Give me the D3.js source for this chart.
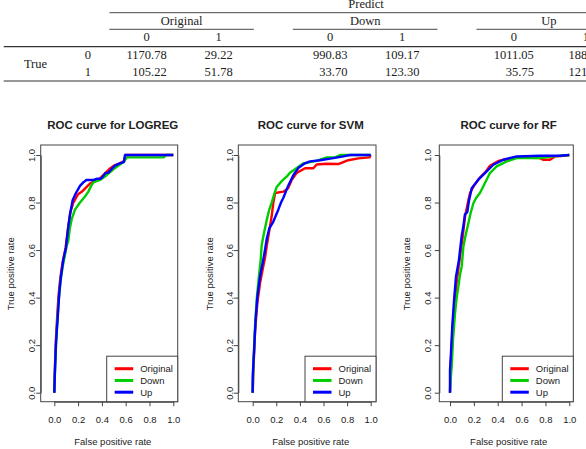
<!DOCTYPE html>
<html>
<head>
<meta charset="utf-8">
<script src="https://cdn.jsdelivr.net/npm/d3@7"></script>
<style>
  body { margin: 0; background: #fff; }
  svg { display: block; }
  .tbl text { font-family: "Liberation Serif", "Times New Roman", serif; font-size: 12.5px; fill: #222; }
  .roc text { font-family: "Liberation Sans", Arial, sans-serif; fill: #222; }
</style>
</head>
<body>
<svg id="chart" width="586" height="449"></svg>
<script>
// confusion matrix table
var groups = ['Original', 'Down', 'Up']
var classes = ['0', '1']
var cmOriginal = [[1170.78, 29.22], [105.22, 51.78]]
var cmDown = [[990.83, 109.17], [33.70, 123.30]]
var cmUp = [[1011.05, 188.95], [35.75, 121.25]]

// roc curves, [false positive rate, true positive rate]
var models = ['LOGREG', 'SVM', 'RF']
var samplings = ['Original', 'Down', 'Up']
var colors = ['#ff0000', '#00cd00', '#0000ff']
var ticks = [0, 0.2, 0.4, 0.6, 0.8, 1.0]

var logregOriginal = [[0,0],[0.006,0.12],[0.016,0.25],[0.034,0.40],[0.05,0.48],[0.07,0.55],[0.095,0.61],[0.115,0.69],[0.135,0.76],[0.16,0.80],[0.2,0.835],[0.23,0.845],[0.26,0.86],[0.3,0.88],[0.34,0.89],[0.38,0.90],[0.42,0.92],[0.46,0.94],[0.5,0.955],[0.55,0.965],[0.585,0.975],[0.60,1.0],[1,1]]
var logregDown = [[0,0],[0.006,0.10],[0.018,0.24],[0.034,0.37],[0.05,0.46],[0.07,0.53],[0.09,0.58],[0.105,0.62],[0.118,0.64],[0.13,0.69],[0.146,0.73],[0.174,0.77],[0.216,0.80],[0.258,0.825],[0.286,0.846],[0.31,0.87],[0.328,0.885],[0.384,0.895],[0.44,0.915],[0.496,0.94],[0.552,0.96],[0.59,0.975],[0.61,0.99],[0.92,0.99],[0.94,1.0],[1,1]]
var logregUp = [[0,0],[0.004,0.07],[0.014,0.21],[0.028,0.31],[0.042,0.42],[0.056,0.49],[0.076,0.56],[0.098,0.61],[0.118,0.70],[0.132,0.75],[0.154,0.81],[0.182,0.84],[0.216,0.87],[0.244,0.885],[0.27,0.895],[0.33,0.895],[0.356,0.90],[0.39,0.90],[0.41,0.91],[0.43,0.925],[0.454,0.925],[0.48,0.94],[0.51,0.955],[0.55,0.965],[0.585,0.97],[0.594,1.0],[1,1]]

var svmOriginal = [[0,0],[0.006,0.10],[0.02,0.26],[0.04,0.38],[0.062,0.46],[0.085,0.52],[0.105,0.57],[0.12,0.62],[0.14,0.68],[0.16,0.74],[0.175,0.80],[0.19,0.84],[0.26,0.846],[0.30,0.86],[0.33,0.895],[0.373,0.925],[0.444,0.944],[0.514,0.944],[0.542,0.96],[0.627,0.963],[0.726,0.962],[0.81,0.978],[0.895,0.986],[0.99,0.99],[1,1]]
var svmDown = [[0,0],[0.006,0.12],[0.02,0.28],[0.035,0.40],[0.053,0.49],[0.068,0.56],[0.076,0.62],[0.095,0.67],[0.119,0.727],[0.14,0.77],[0.161,0.80],[0.185,0.84],[0.203,0.865],[0.246,0.89],[0.29,0.91],[0.316,0.925],[0.373,0.945],[0.43,0.965],[0.542,0.975],[0.627,0.99],[0.70,0.99],[0.74,1.0],[1,1]]
var svmUp = [[0,0],[0.0,0.07],[0.011,0.17],[0.025,0.31],[0.039,0.40],[0.062,0.49],[0.09,0.56],[0.104,0.60],[0.12,0.65],[0.14,0.69],[0.175,0.72],[0.2,0.75],[0.217,0.77],[0.24,0.80],[0.26,0.82],[0.3,0.87],[0.344,0.915],[0.386,0.945],[0.443,0.965],[0.486,0.973],[0.57,0.978],[0.683,0.987],[0.768,0.994],[0.825,1.0],[1,1]]

var rfOriginal = [[0,0],[0.004,0.10],[0.011,0.165],[0.025,0.30],[0.042,0.39],[0.056,0.467],[0.07,0.52],[0.084,0.572],[0.105,0.65],[0.126,0.74],[0.154,0.81],[0.168,0.84],[0.20,0.87],[0.251,0.905],[0.30,0.93],[0.335,0.955],[0.405,0.975],[0.45,0.98],[0.559,0.99],[0.754,0.987],[0.78,0.98],[0.838,0.98],[0.88,0.994],[0.93,0.996],[1,1]]
var rfDown = [[0,0],[0.006,0.06],[0.014,0.11],[0.025,0.22],[0.042,0.334],[0.056,0.40],[0.07,0.446],[0.085,0.50],[0.098,0.53],[0.112,0.614],[0.13,0.66],[0.154,0.713],[0.175,0.76],[0.196,0.797],[0.22,0.82],[0.251,0.84],[0.293,0.882],[0.335,0.924],[0.391,0.952],[0.475,0.973],[0.559,0.987],[0.754,0.987],[0.866,0.994],[1,1]]
var rfUp = [[0,0],[0,0.095],[0.008,0.166],[0.019,0.278],[0.034,0.39],[0.05,0.488],[0.075,0.558],[0.084,0.60],[0.098,0.66],[0.112,0.70],[0.125,0.75],[0.145,0.76],[0.16,0.81],[0.182,0.86],[0.237,0.896],[0.293,0.924],[0.363,0.959],[0.447,0.98],[0.559,0.994],[0.754,0.997],[0.922,0.997],[1,1]]

var curves = [
  [logregOriginal, logregDown, logregUp],
  [svmOriginal, svmDown, svmUp],
  [rfOriginal, rfDown, rfUp]
]

var svg = d3.select('#chart')

// ---- table (runs off the right edge, as in the source) ----
var tbl = svg.append('g').attr('class', 'tbl')
var matrices = [cmOriginal, cmDown, cmUp]
var groupX = d3.scalePoint().domain(groups).range([181.6, 548.8])
var colOffset = d3.scalePoint().domain(classes).range([-35, 37])
var rowY = d3.scalePoint().domain(classes).range([59.3, 76])

function hline(y, x1, x2, w) {
  tbl.append('line')
    .attr('x1', x1).attr('x2', x2).attr('y1', y).attr('y2', y)
    .attr('stroke', '#333').attr('stroke-width', w)
}

tbl.append('text').attr('x', 366).attr('y', 7.5).attr('text-anchor', 'middle').text('Predict')
hline(12.7, 109.5, 600, 0.9)
hline(46.7, 3.7, 600, 1.2)
hline(81, 3.7, 600, 1.2)

groups.forEach(function(gname, gi) {
  var cx = groupX(gname)
  tbl.append('text').attr('x', cx).attr('y', 24.5).attr('text-anchor', 'middle').text(gname)
  hline(29.3, cx - 72.3, cx + 72.3, 0.9)
  classes.forEach(function(c, ci) {
    var colX = cx + colOffset(c)
    tbl.append('text').attr('x', colX).attr('y', 41).attr('text-anchor', 'middle').text(c)
    var cells = tbl.selectAll(null)
      .data(classes.map(function(r, ri) { return { r: r, v: matrices[gi][ri][ci] } }))
      .enter().append('text')
      .attr('y', function(d) { return rowY(d.r) })
      .attr('text-anchor', 'end')
      .text(function(d) { return d.v.toFixed(2) })
    var maxW = d3.max(cells.nodes(), function(n) { return n.getComputedTextLength() })
    cells.attr('x', colX + maxW / 2)
  })
})

tbl.append('text').attr('x', 35.5).attr('y', 67.5).attr('text-anchor', 'middle').text('True')
tbl.selectAll(null).data(classes).enter().append('text')
  .attr('x', 87.8).attr('y', function(d) { return rowY(d) })
  .attr('text-anchor', 'middle').text(function(d) { return d })

// ---- roc panels ----
var frame = { top: 145, bottom: 401.7 }
var panelRange = [[54.3, 173.3], [252.7, 370.7], [450, 569.3]]
var panelBox = [[40.7, 177.7], [238.3, 376], [439.3, 573.3]]
var y = d3.scaleLinear().domain([0, 1]).range([392.7, 155])
var fmt = d3.format('.1f')

models.forEach(function(model, pi) {
  var x = d3.scaleLinear().domain([0, 1]).range(panelRange[pi])
  var boxL = panelBox[pi][0], boxR = panelBox[pi][1]
  var g = svg.append('g').attr('class', 'roc')
  var mid = x(0.5) - 1

  g.append('text')
    .attr('x', mid).attr('y', 129)
    .attr('text-anchor', 'middle')
    .style('font-size', '11.5px').style('font-weight', 'bold')
    .text('ROC curve for ' + model)

  g.append('rect')
    .attr('x', boxL).attr('y', frame.top)
    .attr('width', boxR - boxL).attr('height', frame.bottom - frame.top)
    .attr('fill', 'none').attr('stroke', '#444').attr('stroke-width', 1)

  var xAxis = g.append('g')
    .attr('transform', 'translate(0,' + frame.bottom + ')')
    .call(d3.axisBottom(x).tickValues(ticks).tickFormat(fmt).tickSize(4.5).tickSizeOuter(0).tickPadding(10.5))
  xAxis.select('.domain').attr('stroke', '#444')
  xAxis.selectAll('line').attr('stroke', '#444')
  xAxis.selectAll('text').style('font-size', '9.5px').attr('fill', '#222')

  var yAxis = g.append('g')
    .attr('transform', 'translate(' + boxL + ',0)')
    .call(d3.axisLeft(y).tickValues(ticks).tickFormat(fmt).tickSize(4.5).tickSizeOuter(0))
  yAxis.select('.domain').attr('stroke', '#444')
  yAxis.selectAll('line').attr('stroke', '#444')
  yAxis.selectAll('text')
    .attr('x', 0).attr('y', 0).attr('dy', 0)
    .attr('text-anchor', 'middle')
    .attr('transform', 'translate(' + (x(0) - boxL - 19.5) + ',0) rotate(-90)')
    .style('font-size', '9.5px').attr('fill', '#222')

  g.append('text')
    .attr('x', mid).attr('y', 444.5)
    .attr('text-anchor', 'middle')
    .style('font-size', '9.5px')
    .text('False positive rate')

  g.append('text')
    .attr('transform', 'translate(' + (x(0) - 40) + ',' + y(0.5) + ') rotate(-90)')
    .attr('text-anchor', 'middle')
    .style('font-size', '9.5px')
    .text('True positive rate')

  var line = d3.line()
    .x(function(d) { return x(d[0]) })
    .y(function(d) { return y(d[1]) })

  g.selectAll('path.roc-line')
    .data(curves[pi])
    .enter().append('path')
    .attr('class', 'roc-line')
    .attr('d', line)
    .attr('fill', 'none')
    .attr('stroke', function(d, i) { return colors[i] })
    .attr('stroke-width', 2.4)
    .attr('stroke-linejoin', 'round')

  // legend, bottom right
  var legW = 71, legH = 45.5
  var legL = boxR - legW, legT = frame.bottom - legH
  g.append('rect')
    .attr('x', legL).attr('y', legT).attr('width', legW).attr('height', legH)
    .attr('fill', '#fff').attr('stroke', '#444').attr('stroke-width', 1)
  var legRow = d3.scalePoint().domain(samplings).range([legT + 12.5, legT + 36])
  var items = g.selectAll('g.leg')
    .data(samplings)
    .enter().append('g')
    .attr('class', 'leg')
    .attr('transform', function(d) { return 'translate(' + legL + ',' + legRow(d) + ')' })
  items.append('line')
    .attr('x1', 8).attr('x2', 26.5)
    .attr('stroke', function(d, i) { return colors[i] })
    .attr('stroke-width', 3)
  items.append('text')
    .attr('x', 33.5).attr('dy', '0.35em')
    .style('font-size', '9.5px')
    .text(function(d) { return d })
})
</script>
</body>
</html>
